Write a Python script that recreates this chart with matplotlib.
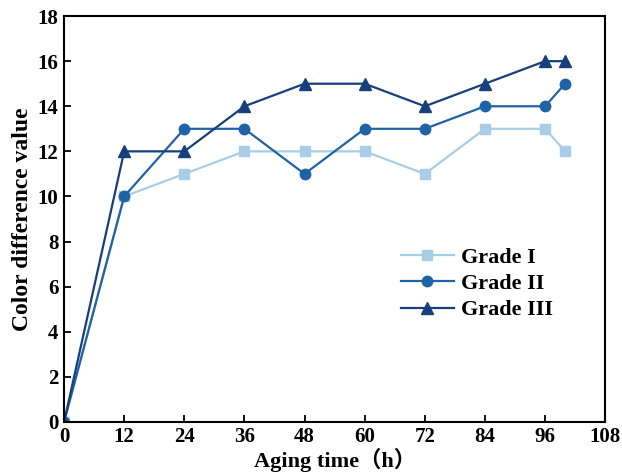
import matplotlib
matplotlib.use("Agg")
import matplotlib.pyplot as plt

plt.rcParams['font.family'] = ['Liberation Serif', 'Noto Sans CJK SC']
plt.rcParams['font.weight'] = 'bold'

hours = [0, 12, 24, 36, 48, 60, 72, 84, 96, 100]
grade1 = [0, 10, 11, 12, 12, 12, 11, 13, 13, 12]
grade2 = [0, 10, 13, 13, 11, 13, 13, 14, 14, 15]
grade3 = [0, 12, 12, 14, 15, 15, 14, 15, 16, 16]

fig = plt.figure(figsize=(6.22, 4.73), dpi=100)
ax = fig.add_axes([0.103, 0.108, 0.870, 0.858])

ax.plot(hours, grade1, marker='s', color='#a9cde6', lw=1.6, ms=6.5, label='Grade I')
ax.plot(hours, grade2, marker='o', color='#1f63a6', lw=1.6, ms=7.5, label='Grade II')
ax.plot(hours, grade3, marker='^', color='#173f7c', lw=1.6, ms=8, label='Grade III')

ax.set_xlim(0, 108)
ax.set_ylim(0, 18)
ax.set_xticks(range(0, 109, 12))
ax.set_yticks(range(0, 19, 2))
ax.tick_params(direction='in', length=5, width=1.3, labelsize=15, pad=4)
for s in ax.spines.values():
    s.set_linewidth(1.5)

ax.set_xlabel('Aging time（h）', fontsize=16, fontweight='bold', labelpad=0)
ax.set_ylabel('Color difference value', fontsize=17, fontweight='bold', labelpad=3)

ax.legend(loc='center left', bbox_to_anchor=(0.585, 0.34), frameon=False,
          fontsize=16, handlelength=2.4, labelspacing=0.25, handletextpad=0.3)

fig.savefig('out.png', dpi=100)
